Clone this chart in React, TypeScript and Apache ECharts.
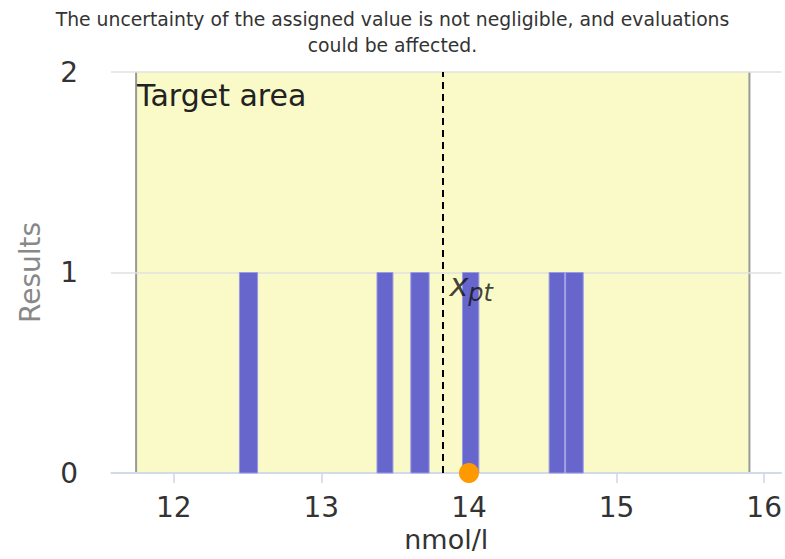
import React, { useEffect, useRef } from "react";
import * as echarts from "echarts";

const titleLines = [
  "The uncertainty of the assigned value is not negligible, and evaluations",
  "could be affected.",
];
const xTickValues = [12, 13, 14, 15, 16];
const yTickValues = [0, 1, 2];
const barStarts = [12.445, 13.377, 13.606, 13.956, 14.543, 14.655];
const barEnds = [12.568, 13.485, 13.73, 14.067, 14.648, 14.774];
const barCounts = [1, 1, 1, 1, 1, 1];
const targetLow = 11.745;
const targetHigh = 15.9;
const targetTop = 2;
const xpt = 13.82;
const dotValue = 14.0;
const xMin = 11.575;
const xMax = 16.117;
const xAxisName = "nmol/l";
const yAxisName = "Results";
const targetLabel = "Target area";

const FONT = "DejaVu Sans";

export default function App() {
  const ref = useRef<HTMLDivElement>(null);
  useEffect(() => {
    if (!ref.current) return;
    const chart = echarts.init(ref.current, undefined, { renderer: "svg" });
    const barData = barStarts.map((s, i) => [s, barEnds[i], barCounts[i]]);
    const option: any = {
      animation: false,
      title: {
        text: titleLines.join("\n"),
        left: "center",
        top: 1,
        textStyle: {
          fontFamily: FONT,
          fontSize: 18.8,
          fontWeight: "normal",
          color: "#333",
          lineHeight: 26,
        },
      },
      grid: { left: 111, right: 0, top: 72, bottom: 86, containLabel: false },
      xAxis: {
        type: "value",
        min: xMin,
        max: xMax,
        name: xAxisName,
        nameLocation: "middle",
        nameGap: 37,
        nameTextStyle: { fontFamily: FONT, fontSize: 27, color: "#333" },
        axisLine: { show: true, lineStyle: { color: "#ccd6eb", width: 1.5 } },
        axisTick: {
          show: true,
          customValues: xTickValues,
          length: 10,
          lineStyle: { color: "#ccd6eb", width: 1.5 },
        },
        axisLabel: {
          customValues: xTickValues,
          margin: 20,
          fontFamily: FONT,
          fontSize: 28,
          color: "#333",
        },
        splitLine: { show: false },
      },
      yAxis: {
        type: "value",
        min: 0,
        max: 2,
        interval: 1,
        name: yAxisName,
        nameLocation: "middle",
        nameGap: 67,
        nameRotate: 90,
        nameTextStyle: { fontFamily: FONT, fontSize: 28, color: "#888" },
        axisLine: { show: false },
        axisTick: { show: false },
        axisLabel: {
          customValues: yTickValues,
          margin: 33,
          fontFamily: FONT,
          fontSize: 28,
          color: "#333",
        },
        splitLine: { show: true, lineStyle: { color: "#e0e0e0", width: 1.5 } },
      },
      series: [
        {
          type: "custom",
          z: -1,
          data: [[targetLow, targetHigh, targetTop]],
          encode: { x: [0, 1], y: 2 },
          clip: false,
          renderItem: (params: any, api: any) => {
            const p0 = api.coord([api.value(0), 0]);
            const p1 = api.coord([api.value(1), api.value(2)]);
            return {
              type: "group",
              children: [
                {
                  type: "rect",
                  shape: { x: p0[0], y: p1[1], width: p1[0] - p0[0], height: p0[1] - p1[1] },
                  style: { fill: "#fafac8" },
                },
                {
                  type: "line",
                  shape: { x1: p0[0], y1: p1[1], x2: p0[0], y2: p0[1] },
                  style: { stroke: "#999", lineWidth: 2 },
                },
                {
                  type: "line",
                  shape: { x1: p1[0], y1: p1[1], x2: p1[0], y2: p0[1] },
                  style: { stroke: "#999", lineWidth: 2 },
                },
                {
                  type: "text",
                  x: p0[0] + 1,
                  y: p1[1] + 23,
                  style: {
                    text: targetLabel,
                    fontFamily: FONT,
                    fontSize: 30,
                    fill: "#222",
                    verticalAlign: "middle",
                    align: "left",
                  },
                },
              ],
            };
          },
        },
        {
          type: "custom",
          z: 3,
          data: barData,
          encode: { x: [0, 1], y: 2 },
          renderItem: (params: any, api: any) => {
            const p0 = api.coord([api.value(0), 0]);
            const p1 = api.coord([api.value(1), api.value(2)]);
            return {
              type: "rect",
              shape: { x: p0[0], y: p1[1], width: p1[0] - p0[0], height: p0[1] - p1[1] },
              style: { fill: "#6666cc", stroke: "#9a9ae6", lineWidth: 1 },
            };
          },
          markLine: {
            silent: true,
            symbol: ["none", "none"],
            label: { show: false },
            lineStyle: { color: "#000", type: [7, 5], width: 2 },
            data: [{ xAxis: xpt }],
          },
        },
        {
          type: "scatter",
          z: 5,
          symbolSize: 0,
          data: [[xpt, 1]],
          label: {
            show: true,
            position: "right",
            distance: 7,
            offset: [0, 12],
            formatter: "{a|x}{b|pt}",
            rich: {
              a: { fontFamily: FONT, fontSize: 32, fontStyle: "italic", color: "#111" },
              b: {
                fontFamily: FONT,
                fontSize: 24,
                fontStyle: "italic",
                color: "#111",
                padding: [16, 0, 0, 0],
              },
            },
          },
        },
        {
          type: "scatter",
          z: 10,
          clip: false,
          symbol: "circle",
          symbolSize: 20,
          itemStyle: { color: "#ff9900", opacity: 1 },
          data: [[dotValue, 0]],
        },
      ],
    };
    chart.setOption(option);
    return () => chart.dispose();
  }, []);
  return (
    <div
      ref={ref}
      style={{ position: "fixed", left: 0, top: 0, width: 785, height: 559, background: "#fff" }}
    />
  );
}
